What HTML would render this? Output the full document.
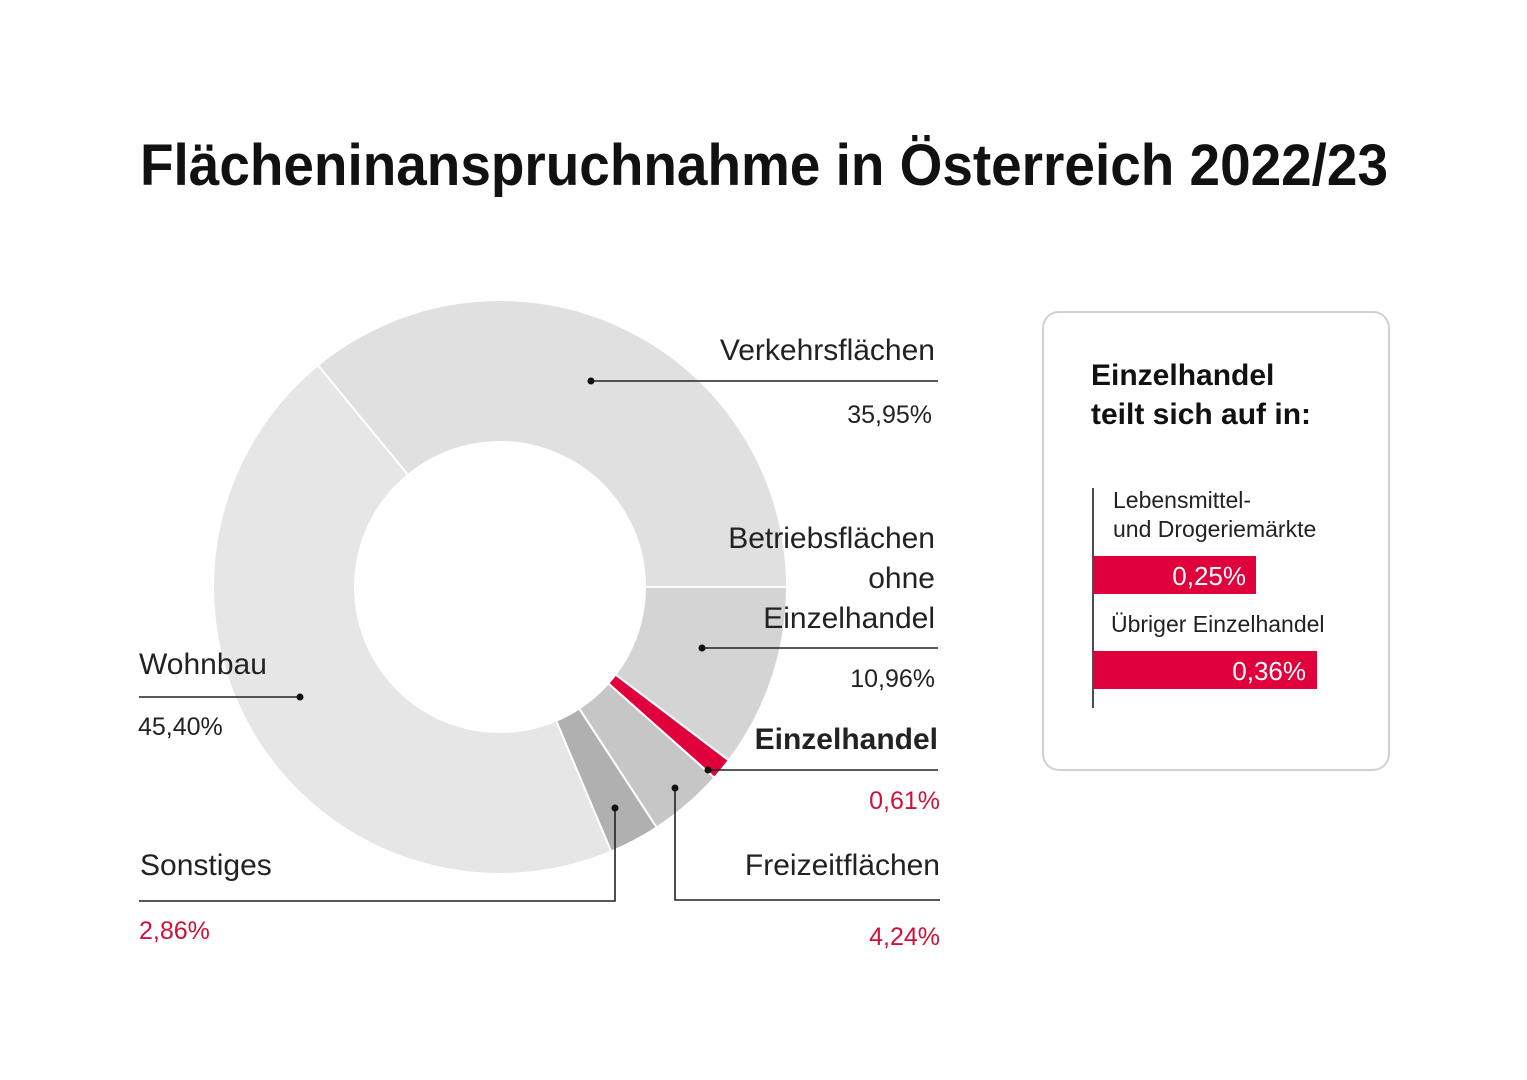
<!DOCTYPE html>
<html><head><meta charset="utf-8"><style>
html,body{margin:0;padding:0;background:#fff;}
svg{display:block;}
text{font-family:"Liberation Sans Narrow","Liberation Sans",sans-serif;}
</style></head><body>
<svg id="s" width="1527" height="1080" viewBox="0 0 1527 1080" xmlns="http://www.w3.org/2000/svg">
<rect width="1527" height="1080" fill="#fff"/>
<text x="140" y="185" font-size="58" font-weight="bold" fill="#111" textLength="1248" lengthAdjust="spacingAndGlyphs">Flächeninanspruchnahme in Österreich 2022/23</text>
<g id="donut"></g>
<g fill="none" stroke="#222" stroke-width="1.6">
<line x1="591" y1="381" x2="938" y2="381"/>
<line x1="702" y1="648" x2="938" y2="648"/>
<line x1="139" y1="697" x2="300" y2="697"/>
<line x1="708" y1="770" x2="938" y2="770"/>
<polyline points="615,808 615,901 139,901"/>
<polyline points="675,788 675,900 940,900"/>
</g>
<g fill="#111">
<circle cx="591" cy="381" r="3.5"/><circle cx="702" cy="648" r="3.5"/><circle cx="300" cy="697" r="3.5"/>
<circle cx="708" cy="770" r="3.5"/><circle cx="615" cy="808" r="3.5"/><circle cx="675" cy="788" r="3.5"/>
</g>
<g font-size="30" fill="#222" text-anchor="end">
<text x="935" y="360">Verkehrsflächen</text>
<text x="932" y="423" font-size="25">35,95%</text>
<text x="935" y="548">Betriebsflächen</text>
<text x="935" y="588">ohne</text>
<text x="935" y="628">Einzelhandel</text>
<text x="935" y="687" font-size="25">10,96%</text>
<text x="938" y="749" font-weight="bold">Einzelhandel</text>
<text x="940" y="809" font-size="25" fill="#d0103a">0,61%</text>
<text x="940" y="875">Freizeitflächen</text>
<text x="940" y="945" font-size="25" fill="#d0103a">4,24%</text>
</g>
<g font-size="30" fill="#222">
<text x="139" y="674">Wohnbau</text>
<text x="138" y="735" font-size="25">45,40%</text>
<text x="140" y="875">Sonstiges</text>
<text x="139" y="939" font-size="25" fill="#d0103a">2,86%</text>
</g>
<rect x="1043" y="312" width="346" height="458" rx="16" fill="#fff" stroke="#d0d0d0" stroke-width="2"/>
<text x="1091" y="385" font-size="30" font-weight="bold" fill="#111">Einzelhandel</text>
<text x="1091" y="424" font-size="30" font-weight="bold" fill="#111">teilt sich auf in:</text>
<line x1="1093" y1="488" x2="1093" y2="708" stroke="#222" stroke-width="1.6"/>
<text x="1113" y="508" font-size="23" fill="#222">Lebensmittel-</text>
<text x="1113" y="537" font-size="23" fill="#222">und Drogeriemärkte</text>
<rect x="1094" y="556" width="162" height="38" fill="#e0003c"/>
<text x="1246" y="585" font-size="26" fill="#fff" text-anchor="end">0,25%</text>
<text x="1111" y="632" font-size="23" fill="#222">Übriger Einzelhandel</text>
<rect x="1094" y="651" width="223" height="38" fill="#e0003c"/>
<text x="1306" y="680" font-size="26" fill="#fff" text-anchor="end">0,36%</text>
</svg>
<script>
(function(){
var cx=500,cy=587,R=287,r=145;
var segs=[[35.95,"#e0e0e0"],[45.40,"#e6e6e6"],[2.86,"#b0b0b0"],[4.24,"#c6c6c6"],[1.25,"#e0003c"],[10.32,"#d4d4d4"]];
var tot=0;segs.forEach(function(s){tot+=s[0];});
var a=0,g=document.getElementById("donut"),out="";
function pt(rad,ang){var t=ang*Math.PI/180;return (cx+rad*Math.cos(t)).toFixed(2)+","+(cy-rad*Math.sin(t)).toFixed(2);}
segs.forEach(function(s){
var d=s[0]/tot*360,b=a+d,l=d>180?1:0;
var p="M"+pt(R,a)+" A"+R+","+R+" 0 "+l+" 0 "+pt(R,b)+" L"+pt(r,b)+" A"+r+","+r+" 0 "+l+" 1 "+pt(r,a)+" Z";
out+='<path d="'+p+'" fill="'+s[1]+'" stroke="#fff" stroke-width="2"/>';
a=b;});
g.innerHTML=out;
})();
</script>
</body></html>
